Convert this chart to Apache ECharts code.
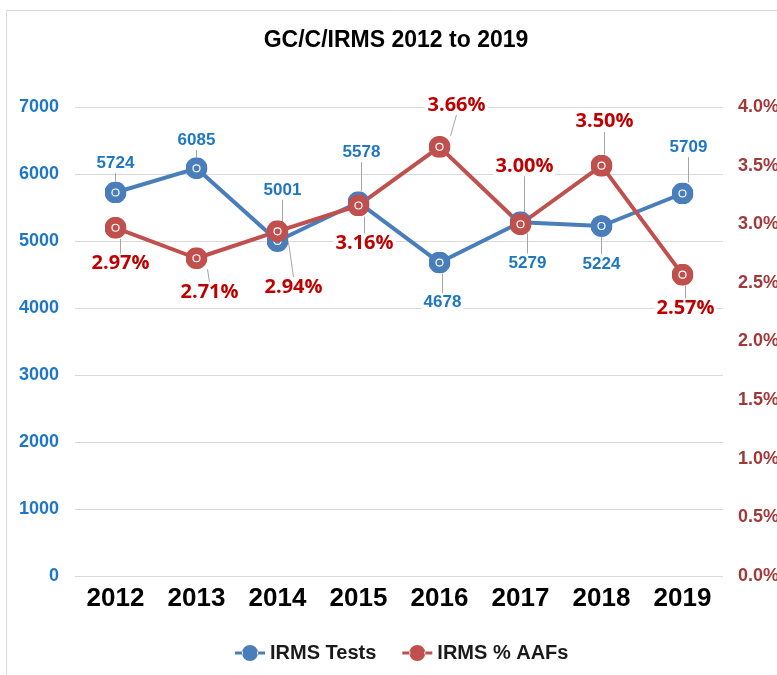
<!DOCTYPE html>
<html>
<head>
<meta charset="utf-8">
<script src="https://cdn.jsdelivr.net/npm/echarts@6/dist/echarts.min.js"></script>
<style>
html,body{margin:0;padding:0;background:#fff;}
#chart{width:777px;height:675px;}
</style>
</head>
<body>
<div id="chart"></div>
<script>
// ---- data ----
const years = ['2012', '2013', '2014', '2015', '2016', '2017', '2018', '2019'];
const irmsTests = [5724, 6085, 5001, 5578, 4678, 5279, 5224, 5709];
const irmsAAFPct = [2.97, 2.71, 2.94, 3.16, 3.66, 3.00, 3.50, 2.57];
const leftAxisTicks = [0, 1000, 2000, 3000, 4000, 5000, 6000, 7000];
const rightAxisTicks = [0.0, 0.5, 1.0, 1.5, 2.0, 2.5, 3.0, 3.5, 4.0];

// ---- label placement (offsets from marker centre, px) ----
const testsLabelOffset = [[0, -29], [0, -28], [5, -51], [3, -50], [3, 40], [7, 41], [0, 38], [6, -46]];
const aafLabelOffset = [[5, 36], [13, 34], [16, 56], [6, 38], [17, -42], [4, -58], [3, -44], [3, 34]];

function markerSymbol(color) {
  const svg = '<svg xmlns="http://www.w3.org/2000/svg" width="44" height="44" viewBox="0 0 44 44">' +
    '<circle cx="22" cy="22" r="22" fill="' + color + '"/>' +
    '<circle cx="22" cy="22" r="7" fill="none" stroke="#ffffff" stroke-width="2.4"/></svg>';
  return 'image://data:image/svg+xml;charset=utf-8,' + encodeURIComponent(svg);
}
const legendIcon = 'path://M0,6.5h8v3h-8z M22,6.5h8v3h-8z M7,8a8,8 0 1,0 16,0a8,8 0 1,0 -16,0z';

const blue = '#4a7ebb';
const red = '#c0504d';

const chart = echarts.init(document.getElementById('chart'), null, {renderer: 'canvas'});

function layoutFor(offsets) {
  return function (params) {
    const r = params.rect;
    const sx = r.x + r.width / 2;
    const sy = r.y + r.height / 2;
    const off = offsets[params.dataIndex];
    const lr = params.labelRect;
    const cx = sx + off[0];
    const cy = sy + off[1];
    const edgeY = off[1] < 0 ? cy + lr.height / 2 - 2 : cy - lr.height / 2 + 2;
    return {
      x: cx,
      y: cy,
      align: 'center',
      verticalAlign: 'middle',
      labelLinePoints: [[cx, edgeY], [sx, sy]]
    };
  };
}

const option = {
  backgroundColor: '#ffffff',
  animation: false,
  graphic: [{
    type: 'rect',
    z: -10,
    shape: {x: 6.5, y: 10.5, width: 800, height: 700},
    style: {fill: '#ffffff', stroke: '#d9d9d9', lineWidth: 1}
  }],
  title: {
    text: 'GC/C/IRMS 2012 to 2019',
    left: 391,
    top: 24,
    textAlign: 'center',
    textStyle: {fontFamily: 'Liberation Sans', fontWeight: 'bold', fontSize: 23, color: '#000000'}
  },
  legend: {
    bottom: 12,
    left: 235,
    padding: 0,
    itemWidth: 30,
    itemHeight: 16,
    itemGap: 26,
    textStyle: {fontFamily: 'Liberation Sans', fontWeight: 'bold', fontSize: 20, color: '#1a1a1a'},
    data: [{name: 'IRMS Tests', icon: legendIcon}, {name: 'IRMS % AAFs', icon: legendIcon}]
  },
  grid: {left: 75, right: 54, top: 107, bottom: 99, containLabel: false, outerBoundsMode: 'none'},
  xAxis: {
    type: 'category',
    data: years,
    boundaryGap: true,
    axisLine: {show: false},
    axisTick: {show: false},
    axisLabel: {margin: 10, fontFamily: 'Liberation Sans', fontWeight: 'bold', fontSize: 26, color: '#000000'}
  },
  yAxis: [{
    type: 'value',
    min: leftAxisTicks[0],
    max: leftAxisTicks[leftAxisTicks.length - 1],
    interval: leftAxisTicks[1] - leftAxisTicks[0],
    axisLine: {show: false},
    axisTick: {show: false},
    splitLine: {show: true, lineStyle: {color: '#d9d9d9', width: 1}},
    axisLabel: {
      margin: 16, fontFamily: 'Liberation Sans', fontWeight: 'bold', fontSize: 18, color: '#1f77c4',
      formatter: function (v) { return String(v); }
    }
  }, {
    type: 'value',
    min: rightAxisTicks[0],
    max: rightAxisTicks[rightAxisTicks.length - 1],
    interval: rightAxisTicks[1] - rightAxisTicks[0],
    position: 'right',
    axisLine: {show: false},
    axisTick: {show: false},
    splitLine: {show: false},
    axisLabel: {
      margin: 15,
      fontFamily: 'Liberation Sans', fontWeight: 'bold', fontSize: 18, color: '#a0393a',
      formatter: function (v) { return v.toFixed(1) + '%'; }
    }
  }],
  series: [{
    name: 'IRMS Tests',
    type: 'line',
    yAxisIndex: 0,
    data: irmsTests,
    symbol: markerSymbol(blue),
    symbolSize: 22,
    color: blue,
    lineStyle: {color: blue, width: 4},
    itemStyle: {color: blue},
    label: {
      show: true,
      position: 'inside',
      fontFamily: 'Liberation Sans', fontWeight: 'bold', fontSize: 17, color: '#1f77c4',
      backgroundColor: '#ffffff',
      padding: [1, 2]
    },
    labelLine: {show: true, lineStyle: {color: '#a6a6a6', width: 1}},
    labelLayout: layoutFor(testsLabelOffset)
  }, {
    name: 'IRMS % AAFs',
    type: 'line',
    yAxisIndex: 1,
    data: irmsAAFPct,
    symbol: markerSymbol(red),
    symbolSize: 22,
    color: red,
    lineStyle: {color: red, width: 4},
    itemStyle: {color: red},
    label: {
      show: true,
      position: 'inside',
      fontFamily: 'Open Sans', fontWeight: 'bold', fontSize: 20, color: '#c00000',
      backgroundColor: '#ffffff',
      padding: [0, 2],
      formatter: function (p) { return p.value.toFixed(2) + '%'; }
    },
    labelLine: {show: true, lineStyle: {color: '#a6a6a6', width: 1}},
    labelLayout: layoutFor(aafLabelOffset)
  }]
};

chart.setOption(option);
</script>
</body>
</html>
